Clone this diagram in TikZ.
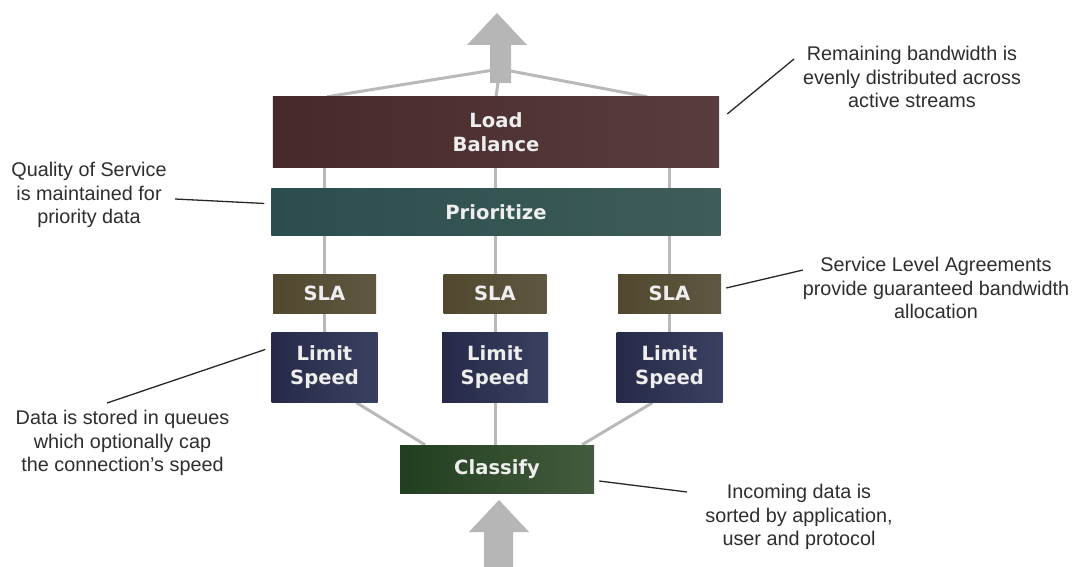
\documentclass[tikz,border=0pt]{standalone}
\usepackage{fontspec}
\setmainfont{Liberation Sans}
\newfontfamily\boxfont{DejaVu Sans}
\usepackage{xcolor}
\usetikzlibrary{positioning,backgrounds}
\definecolor{lbL}{HTML}{47282B}
\definecolor{lbR}{HTML}{593D3E}
\definecolor{prL}{HTML}{2B4E4C}
\definecolor{prR}{HTML}{3E5C5A}
\definecolor{slaL}{HTML}{51482F}
\definecolor{slaR}{HTML}{5F5740}
\definecolor{lsL}{HTML}{262A48}
\definecolor{lsR}{HTML}{3A4060}
\definecolor{clL}{HTML}{213F20}
\definecolor{clR}{HTML}{445B3D}
\definecolor{wiregray}{HTML}{B9B9B9}
\definecolor{arrowgray}{HTML}{B6B6B6}
\definecolor{notetext}{HTML}{2E2E2E}
\definecolor{boxtext}{HTML}{EEEEEE}
\tikzset{
  box/.style={inner sep=0pt, align=center, text=boxtext,
    font=\boxfont\bfseries\fontsize{16.7}{20.4}\selectfont},
  lbbox/.style={box, left color=lbL, right color=lbR, minimum width=13.38cm, minimum height=2.1cm},
  prbox/.style={box, left color=prL, right color=prR, minimum width=13.47cm, minimum height=1.41cm},
  slabox/.style={box, left color=slaL, right color=slaR, minimum width=3.09cm, minimum height=1.17cm},
  lsbox/.style={box, left color=lsL, right color=lsR, minimum width=3.18cm, minimum height=2.1cm},
  clbox/.style={box, left color=clL, right color=clR, minimum width=5.82cm, minimum height=1.44cm},
  note/.style={align=center, inner sep=0pt, text=notetext, font=\fontsize{16.9}{20}\selectfont},
  wire/.style={draw=wiregray, line width=2.55pt},
  lead/.style={draw=black!85, line width=1.1pt},
  bigarrow/.style={fill=arrowgray}
}
\begin{document}
\begin{tikzpicture}[x=0.03cm, y=-0.03cm]
\useasboundingbox (0,0) rectangle (1074,567);
% nodes
\node[lbbox] (lb) at (496,132) {Load\\Balance};
\node[prbox, below=0.63cm of lb] (pr) {Prioritize};
\node[slabox] (sla1) at (324.5,293.5) {SLA};
\node[slabox] (sla2) at (495,293.5) {SLA};
\node[slabox] (sla3) at (669.5,293.5) {SLA};
\node[lsbox, below=0.57cm of sla1] (ls1) {Limit\\Speed};
\node[lsbox, below=0.57cm of sla2] (ls2) {Limit\\Speed};
\node[lsbox, below=0.57cm of sla3] (ls3) {Limit\\Speed};
\node[clbox] (cl) at (497,469) {Classify};
\coordinate (top) at (500,69);

% notes
\node[note] (rem) at (912,77) {Remaining bandwidth is\\evenly distributed across\\active streams};
\node[note] (qos) at (89,195) {Quality of Service\\is maintained for\\priority data};
\node[note] (slan) at (936,288) {Service Level Agreements\\provide guaranteed bandwidth\\allocation};
\node[note] (data) at (122.5,443) {Data is stored in queues\\which optionally cap\\the connection's speed};
\node[note] (inc) at (799,517) {Incoming data is\\sorted by application,\\user and protocol};
\coordinate (remtip) at (794,59);
\coordinate (qostip) at (175,199);
\coordinate (slatip) at (803,270);
\coordinate (datatip) at (107,403);
\coordinate (inctip) at (687,492);

% edges
\begin{scope}[on background layer]
 \fill[white] (0,0) rectangle (1074,567);
 \draw[wire] ([xshift=-5.07cm]lb.north) -- (top);
 \draw[wire] ([xshift=4.53cm]lb.north) -- (top);
 \draw[wire] (lb.north) -- (top);
 \foreach \i in {1,2,3} {
   \draw[wire] (sla\i.north) -- (sla\i.north |- lb.south);
   \draw[wire] (sla\i.south) -- (ls\i.north);
 }
 \draw[wire] ([xshift=0.96cm]ls1.south) -- ([xshift=-2.16cm]cl.north);
 \draw[wire] (ls2.south) -- (ls2.south |- cl.north);
 \draw[wire] ([xshift=-0.51cm]ls3.south) -- ([xshift=2.55cm]cl.north);
\end{scope}

% big arrows
\fill[bigarrow] (490,83) -- (490,45) -- (467,45) -- (497,13) -- (527,45) -- (511,45) -- (511,83) -- cycle;
\fill[bigarrow] (484,567) -- (484,532) -- (469,532) -- (499,500) -- (529,532) -- (513,532) -- (513,567) -- cycle;

% leaders
\draw[lead] ([xshift=.24cm,yshift=.54cm]lb.east) -- (remtip);
\draw[lead] ([xshift=-.21cm,yshift=.255cm]pr.west) -- (qostip);
\draw[lead] ([xshift=-.18cm,yshift=.54cm]ls1.west) -- (datatip);
\draw[lead] ([xshift=.15cm,yshift=.165cm]sla3.east) -- (slatip);
\draw[lead] ([xshift=.15cm,yshift=-.36cm]cl.east) -- (inctip);
\end{tikzpicture}
\end{document}
